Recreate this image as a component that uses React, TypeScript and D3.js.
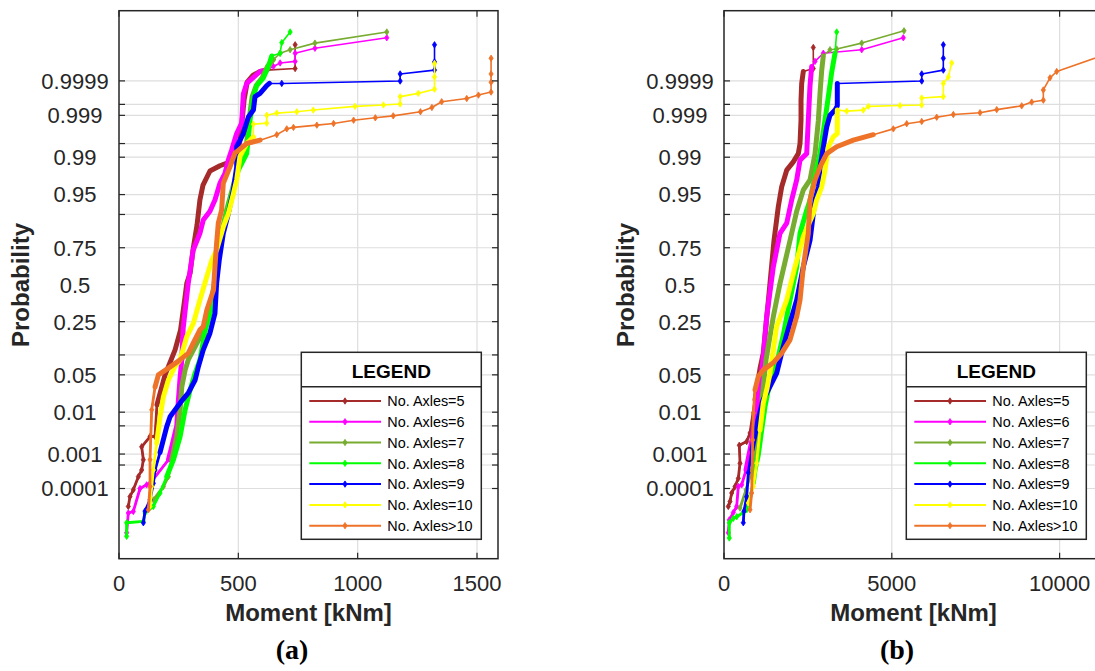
import React from 'react';
import * as d3 from 'd3';

type Pt = [number, number];

// ---------- labels / categories ----------
const seriesNames = ['No. Axles=5', 'No. Axles=6', 'No. Axles=7', 'No. Axles=8', 'No. Axles=9', 'No. Axles=10', 'No. Axles>10'];
const seriesColors = ['#A52A2A', '#FF00FF', '#77AC30', '#00FF00', '#0000FF', '#FFFF00', '#EE7228'];
const probTicks = [0.0001, 0.0005, 0.001, 0.005, 0.01, 0.05, 0.1, 0.25, 0.5, 0.75, 0.9, 0.95, 0.99, 0.995, 0.999, 0.9995, 0.9999];
const probLabels = ['0.0001', '', '0.001', '', '0.01', '0.05', '', '0.25', '0.5', '0.75', '', '0.95', '0.99', '', '0.999', '', '0.9999'];
const momentTicksA = [0, 500, 1000, 1500];
const momentTicksB = [0, 5000, 10000];
const captions = ['(a)', '(b)'];

// ---------- panel (a) : [moment kNm, probability] ----------
const a5Lo: Pt[] = [[39, 2.6e-5], [46, 5.5e-5], [60, 9.1e-5], [81, 2.3e-4], [95, 3.6e-4], [102, 7.0e-4], [95, 1.55e-3], [130, 2.8e-3], [151, 2.8e-3]];
const a5Body: Pt[] = [[159, 0.0142], [193, 0.05], [235, 0.117], [258, 0.205], [275, 0.39], [284, 0.51], [298, 0.584], [310, 0.737], [327, 0.862], [339, 0.939], [352, 0.9655], [381, 0.981], [423, 0.985], [474, 0.988], [495, 0.9912], [507, 0.9958], [516, 0.99866], [524, 0.99962], [537, 0.99989], [562, 0.999934], [591, 0.99995], [620, 0.999955]];
const a5Hi: Pt[] = [[738, 0.99996], [738, 0.999994]];

const a6Lo: Pt[] = [[32, 3.0e-6], [39, 1.55e-5], [60, 1.75e-5], [88, 1.0e-4], [116, 1.3e-4], [130, 1.45e-4]];
const a6Body: Pt[] = [[207, 7.0e-4], [221, 1.55e-3], [242, 5.0e-3], [249, 0.0178], [256, 0.045], [263, 0.085], [269, 0.215], [290, 0.51], [311, 0.737], [339, 0.826], [353, 0.881], [381, 0.91], [402, 0.939], [423, 0.968], [444, 0.979], [458, 0.9885], [472, 0.993], [493, 0.9971], [514, 0.9984], [521, 0.99975], [535, 0.99988], [591, 0.99995], [619, 0.999955]];
const a6Hi: Pt[] = [[647, 0.999966], [675, 0.999974], [738, 0.999977], [738, 0.999988], [821, 0.999992], [1122, 0.9999967]];

const a7Lo: Pt[] = [[144, 4.3e-5], [186, 1.15e-4], [207, 2.3e-4]];
const a7Body: Pt[] = [[221, 7.0e-4], [242, 2.8e-3], [256, 0.0112], [263, 0.031], [277, 0.06], [290, 0.085], [330, 0.15], [358, 0.205], [381, 0.3224], [399, 0.51], [414, 0.737], [429, 0.827], [451, 0.913], [474, 0.958], [496, 0.9817], [530, 0.9916], [545, 0.99866], [558, 0.9997], [575, 0.99986], [600, 0.99992], [622, 0.999966], [647, 0.99998]];
const a7Hi: Pt[] = [[675, 0.999988], [717, 0.999991], [821, 0.9999948], [1122, 0.999998]];

const a8Lo: Pt[] = [[32, 2.2e-6], [32, 7e-6], [102, 7.8e-6], [109, 1.55e-5], [144, 2.6e-5], [172, 7.2e-5]];
const a8Body: Pt[] = [[200, 2.3e-4], [228, 7.0e-4], [256, 2.8e-3], [277, 0.0112], [298, 0.0274], [319, 0.0535], [339, 0.085], [362, 0.205], [385, 0.3224], [403, 0.51], [418, 0.737], [433, 0.827], [455, 0.913], [478, 0.958], [500, 0.9817], [535, 0.9916], [549, 0.99866], [563, 0.9997], [577, 0.99986], [605, 0.99992], [626, 0.999966], [640, 0.999985]];
const a8Hi: Pt[] = [[675, 0.999988], [682, 0.999995], [717, 0.999998]];

const a9Lo: Pt[] = [[102, 7e-6], [109, 1.8e-5], [130, 4.3e-5], [144, 1.45e-4], [151, 3.6e-4]];
const a9Body: Pt[] = [[172, 1.1e-3], [200, 4.8e-3], [214, 8.0e-3], [256, 0.0155], [290, 0.024], [319, 0.041], [333, 0.0683], [353, 0.117], [381, 0.188], [402, 0.30], [409, 0.51], [420, 0.673], [437, 0.826], [458, 0.903], [479, 0.958], [493, 0.984], [493, 0.9941], [521, 0.9971], [542, 0.9989], [563, 0.99928], [570, 0.9997], [591, 0.99976], [619, 0.99986], [630, 0.99988]];
const a9Hi: Pt[] = [[682, 0.99988], [1178, 0.999899], [1178, 0.99994], [1322, 0.999955], [1322, 0.999976], [1322, 0.999994]];

const a10Lo: Pt[] = [[130, 2.6e-5], [137, 1.15e-4], [144, 3.6e-4]];
const a10Body: Pt[] = [[158, 1.9e-3], [172, 8.0e-3], [186, 0.0203], [207, 0.041], [235, 0.0683], [256, 0.085], [284, 0.172], [312, 0.242], [339, 0.39], [368, 0.558], [389, 0.673], [409, 0.737], [437, 0.854], [458, 0.903], [478, 0.949], [493, 0.972], [507, 0.9904], [535, 0.995], [563, 0.9965]];
const a10Hi: Pt[] = [[563, 0.9983], [619, 0.9984], [619, 0.99901], [661, 0.99913], [745, 0.9992], [814, 0.99928], [989, 0.99943], [1108, 0.99948], [1178, 0.99951], [1178, 0.9997], [1254, 0.99976], [1322, 0.99982], [1322, 0.999925], [1322, 0.999973]];

const a11Lo: Pt[] = [[123, 2.0e-5], [130, 1.15e-4], [130, 7.0e-4], [137, 0.0112]];
const a11Body: Pt[] = [[151, 0.031], [165, 0.05], [207, 0.064], [256, 0.085], [290, 0.105], [311, 0.143], [339, 0.205], [353, 0.222], [368, 0.322], [396, 0.4615], [402, 0.627], [409, 0.775], [416, 0.869], [430, 0.913], [437, 0.968], [465, 0.9842], [486, 0.9918], [535, 0.995], [591, 0.99583]];
const a11Hi: Pt[] = [[661, 0.9969], [703, 0.99777], [731, 0.99795], [829, 0.9982], [899, 0.99837], [983, 0.99866], [1074, 0.99884], [1149, 0.99897], [1263, 0.9992], [1311, 0.99939], [1352, 0.99958], [1457, 0.99966], [1506, 0.99973], [1559, 0.99978], [1559, 0.99989], [1559, 0.99994], [1559, 0.999982]];

// ---------- panel (b) ----------
const b5Lo: Pt[] = [[128, 2.6e-5], [179, 3.8e-5], [229, 7.2e-5], [328, 1.15e-4], [426, 2.05e-4], [477, 5.6e-4], [456, 1.7e-3], [676, 2.1e-3], [775, 3.4e-3]];
const b5Body: Pt[] = [[924, 0.0178], [1073, 0.063], [1171, 0.106], [1371, 0.51], [1490, 0.79], [1618, 0.923], [1719, 0.963], [1868, 0.9817], [2065, 0.9875], [2214, 0.9916], [2265, 0.995], [2295, 0.99866], [2295, 0.99962], [2315, 0.99988], [2363, 0.99995]];
const b5Hi: Pt[] = [[2661, 0.99996], [2661, 0.9999925]];

const b6Lo: Pt[] = [[128, 3.0e-6], [158, 8.9e-6], [277, 1.6e-5], [378, 2.6e-5], [426, 1.15e-4], [527, 1.3e-4]];
const b6Body: Pt[] = [[656, 3.6e-4], [834, 2.3e-3], [1013, 0.0178], [1162, 0.085], [1272, 0.28], [1469, 0.627], [1669, 0.826], [1868, 0.869], [2017, 0.939], [2166, 0.972], [2265, 0.9885], [2464, 0.9916], [2512, 0.99866], [2563, 0.99986], [2613, 0.999966]];
const b6Hi: Pt[] = [[2712, 0.999977], [2959, 0.999988], [4104, 0.999991], [5343, 0.9999967]];

const b7Lo: Pt[] = [[477, 2.3e-5], [656, 9e-5], [834, 3.6e-4], [983, 2.3e-3]];
const b7Body: Pt[] = [[1132, 0.0178], [1252, 0.085], [1469, 0.28], [1669, 0.51], [1967, 0.79], [2166, 0.91], [2363, 0.958], [2563, 0.972], [2712, 0.9916], [2812, 0.99866], [2861, 0.99976], [2912, 0.999955], [2959, 0.999985]];
const b7Hi: Pt[] = [[3159, 0.999991], [3358, 0.9999915], [4104, 0.9999948], [5364, 0.9999982]];

const b8Lo: Pt[] = [[158, 1.9e-6], [158, 7e-6], [277, 1.0e-5], [378, 1.15e-5], [575, 1.6e-5], [676, 2.0e-5], [775, 5.5e-5]];
const b8Body: Pt[] = [[873, 1.5e-4], [924, 3.6e-4], [1022, 9.5e-4], [1123, 4.0e-3], [1222, 0.0131], [1320, 0.0274], [1469, 0.0535], [1618, 0.095], [1767, 0.18], [1967, 0.39], [2166, 0.627], [2265, 0.826], [2464, 0.913], [2563, 0.939], [2712, 0.976], [2861, 0.9917], [3010, 0.99866], [3109, 0.9997], [3209, 0.999947], [3308, 0.999988]];
const b8Hi: Pt[] = [[3358, 0.999998]];

const b9Lo: Pt[] = [[575, 7e-6], [596, 1.8e-5], [676, 5.5e-5], [724, 3.0e-4]];
const b9Body: Pt[] = [[834, 1.3e-3], [1013, 6.8e-3], [1162, 0.0178], [1272, 0.024], [1570, 0.0535], [1767, 0.13], [1967, 0.242], [2166, 0.39], [2363, 0.627], [2563, 0.79], [2712, 0.939], [2812, 0.963], [2861, 0.984], [2959, 0.994], [3060, 0.998], [3159, 0.99901], [3308, 0.99928], [3376, 0.99945], [3376, 0.99988]];
const b9Hi: Pt[] = [[5892, 0.999899], [5892, 0.99994], [6535, 0.999955], [6535, 0.999982], [6535, 0.999994]];

const b10Lo: Pt[] = [[724, 3.4e-5], [873, 1.15e-4], [974, 5.6e-4]];
const b10Body: Pt[] = [[1073, 4.0e-3], [1171, 0.0155], [1272, 0.0274], [1371, 0.0535], [1570, 0.222], [1868, 0.39], [2116, 0.627], [2363, 0.809], [2661, 0.903], [2763, 0.939], [2912, 0.963], [3010, 0.9817], [3109, 0.9941], [3258, 0.9965], [3376, 0.9971], [3376, 0.99928]];
const b10Hi: Pt[] = [[3657, 0.99923], [4151, 0.99928], [4300, 0.99943], [5245, 0.99946], [5892, 0.99948], [5892, 0.99967], [6535, 0.9997], [6535, 0.99988], [6684, 0.999925], [6785, 0.999974]];

const b11Lo: Pt[] = [[775, 2.0e-5], [825, 7.2e-5], [855, 2.3e-3], [873, 9.6e-3]];
const b11Body: Pt[] = [[924, 0.0274], [1022, 0.047], [1171, 0.06], [1469, 0.077], [1719, 0.106], [1967, 0.157], [2166, 0.28], [2265, 0.39], [2363, 0.627], [2512, 0.826], [2563, 0.939], [2712, 0.972], [2861, 0.9842], [3060, 0.9916], [3358, 0.9941], [3853, 0.99583], [4449, 0.9969]];
const b11Hi: Pt[] = [[5045, 0.99777], [5444, 0.99835], [5892, 0.99855], [6338, 0.99888], [6833, 0.99905], [7629, 0.99915], [8126, 0.9993], [8871, 0.99945], [9169, 0.99957], [9515, 0.99962], [9515, 0.99981], [9714, 0.99992], [9914, 0.99995], [11234, 0.999985]];

type Series = { lo: Pt[]; body: Pt[]; hi: Pt[] };
const panelA: Series[] = [
  { lo: a5Lo, body: a5Body, hi: a5Hi },
  { lo: a6Lo, body: a6Body, hi: a6Hi },
  { lo: a7Lo, body: a7Body, hi: a7Hi },
  { lo: a8Lo, body: a8Body, hi: a8Hi },
  { lo: a9Lo, body: a9Body, hi: a9Hi },
  { lo: a10Lo, body: a10Body, hi: a10Hi },
  { lo: a11Lo, body: a11Body, hi: a11Hi },
];
const panelB: Series[] = [
  { lo: b5Lo, body: b5Body, hi: b5Hi },
  { lo: b6Lo, body: b6Body, hi: b6Hi },
  { lo: b7Lo, body: b7Body, hi: b7Hi },
  { lo: b8Lo, body: b8Body, hi: b8Hi },
  { lo: b9Lo, body: b9Body, hi: b9Hi },
  { lo: b10Lo, body: b10Body, hi: b10Hi },
  { lo: b11Lo, body: b11Body, hi: b11Hi },
];

// inverse standard normal CDF (Acklam)
function probit(p: number): number {
  const a = [-3.969683028665376e1, 2.209460984245205e2, -2.759285104469687e2, 1.38357751867269e2, -3.066479806614716e1, 2.506628277459239];
  const b = [-5.447609879822406e1, 1.615858368580409e2, -1.556989798598866e2, 6.680131188771972e1, -1.328068155288572e1];
  const c = [-7.784894002430293e-3, -3.223964580411365e-1, -2.400758277161838, -2.549732539343734, 4.374664141464968, 2.938163982698783];
  const d = [7.784695709041462e-3, 3.224671290700398e-1, 2.445134137142996, 3.754408661907416];
  const pl = 0.02425;
  if (p < pl) {
    const q = Math.sqrt(-2 * Math.log(p));
    return (((((c[0] * q + c[1]) * q + c[2]) * q + c[3]) * q + c[4]) * q + c[5]) / ((((d[0] * q + d[1]) * q + d[2]) * q + d[3]) * q + 1);
  }
  if (p <= 1 - pl) {
    const q = p - 0.5, r = q * q;
    return ((((((a[0] * r + a[1]) * r + a[2]) * r + a[3]) * r + a[4]) * r + a[5]) * q) / (((((b[0] * r + b[1]) * r + b[2]) * r + b[3]) * r + b[4]) * r + 1);
  }
  const q = Math.sqrt(-2 * Math.log(1 - p));
  return -(((((c[0] * q + c[1]) * q + c[2]) * q + c[3]) * q + c[4]) * q + c[5]) / ((((d[0] * q + d[1]) * q + d[2]) * q + d[3]) * q + 1);
}

const TOP = 10.7;
const BOTTOM = 558.7;
const PW = 379;
const AXIS = '#262626';
const GRID = '#dedede';
const SANS = '"Liberation Sans", Arial, Helvetica, sans-serif';
const SERIF = '"Liberation Serif", "Times New Roman", serif';

const markerPath = 'M0,-3.2L2.1,0L0,3.2L-2.1,0Z';

function Panel({ left, xMax, xTicks, data, caption, id }: { left: number; xMax: number; xTicks: number[]; data: Series[]; caption: string; id: string }) {
  const x = d3.scaleLinear().domain([0, xMax]).range([left, left + PW]);
  const y = d3.scaleLinear().domain([-5, 5]).range([BOTTOM, TOP]);
  const line = d3.line<Pt>().x((d) => x(d[0])).y((d) => y(probit(d[1])));
  const right = left + PW;
  const legX = left + 182.3;
  const legY = 352.3;
  const legW = 180;
  const legH = 187;
  return (
    <g>
      <defs>
        <clipPath id={id}>
          <rect x={left} y={TOP} width={PW} height={BOTTOM - TOP} />
        </clipPath>
      </defs>
      <rect x={left} y={TOP} width={PW} height={BOTTOM - TOP} fill="#fff" />
      {/* grid */}
      {probTicks.map((p, i) => (
        <line key={'gy' + i} x1={left} x2={right} y1={y(probit(p))} y2={y(probit(p))} stroke={GRID} strokeWidth={1.2} />
      ))}
      {xTicks.filter((t) => t > 0).map((t) => (
        <line key={'gx' + t} x1={x(t)} x2={x(t)} y1={TOP} y2={BOTTOM} stroke={GRID} strokeWidth={1.2} />
      ))}
      {/* series */}
      <g clipPath={`url(#${id})`}>
        {data.map((s, i) => {
          const col = seriesColors[i];
          const all = [...s.lo, ...s.body, ...s.hi];
          const loPath = [...s.lo, s.body[0]];
          return (
            <g key={'s' + i}>
              <path d={line(all) || ''} fill="none" stroke={col} strokeWidth={1.6} strokeLinejoin="round" />
              <path d={line(loPath) || ''} fill="none" stroke={col} strokeWidth={2.8} strokeLinejoin="round" strokeLinecap="round" />
              <path d={line(s.body) || ''} fill="none" stroke={col} strokeWidth={5} strokeLinejoin="round" strokeLinecap="round" />
              {[...s.lo, ...s.hi].map((d, k) => (
                <path key={k} d={markerPath} transform={`translate(${x(d[0])},${y(probit(d[1]))})`} fill={col} stroke={col} strokeWidth={0.8} />
              ))}
            </g>
          );
        })}
      </g>
      {/* axes box */}
      <rect x={left} y={TOP} width={PW} height={BOTTOM - TOP} fill="none" stroke={AXIS} strokeWidth={1.5} />
      {probTicks.map((p, i) => {
        const yy = y(probit(p));
        return (
          <g key={'ty' + i}>
            <line x1={left} x2={left + 6} y1={yy} y2={yy} stroke={AXIS} strokeWidth={1.2} />
            <line x1={right - 6} x2={right} y1={yy} y2={yy} stroke={AXIS} strokeWidth={1.2} />
            {probLabels[i] && (
              <text x={left - 44} y={yy} dy="0.36em" textAnchor="middle" fontSize={22} fill={AXIS} fontFamily={SANS}>
                {probLabels[i]}
              </text>
            )}
          </g>
        );
      })}
      {xTicks.map((t) => (
        <g key={'tx' + t}>
          <line x1={x(t)} x2={x(t)} y1={BOTTOM} y2={BOTTOM - 6} stroke={AXIS} strokeWidth={1.2} />
          <line x1={x(t)} x2={x(t)} y1={TOP} y2={TOP + 6} stroke={AXIS} strokeWidth={1.2} />
          <text x={x(t)} y={590.5} textAnchor="middle" fontSize={22} fill={AXIS} fontFamily={SANS}>
            {t}
          </text>
        </g>
      ))}
      <text x={left + PW / 2} y={621} textAnchor="middle" fontSize={24} fontWeight="bold" fill={AXIS} fontFamily={SANS}>
        Moment [kNm]
      </text>
      <text transform={`translate(${left - 90.5},285) rotate(-90)`} textAnchor="middle" fontSize={24} fontWeight="bold" fill={AXIS} fontFamily={SANS}>
        Probability
      </text>
      <text x={left + 173} y={659.3} textAnchor="middle" fontSize={28} fontWeight="bold" fill="#000" fontFamily={SERIF}>
        {caption}
      </text>
      {/* legend */}
      <g>
        <rect x={legX} y={legY} width={legW} height={legH} fill="#fff" stroke={AXIS} strokeWidth={1.5} />
        <line x1={legX} x2={legX + legW} y1={legY + 34.4} y2={legY + 34.4} stroke={AXIS} strokeWidth={1.5} />
        <text x={legX + legW / 2} y={legY + 25.4} textAnchor="middle" fontSize={19} fontWeight="bold" fill="#000" fontFamily={SANS}>
          LEGEND
        </text>
        {seriesNames.map((n, i) => {
          const cy = 401 + i * 20.78;
          return (
            <g key={'lg' + i}>
              <line x1={legX + 8} x2={legX + 79.7} y1={cy} y2={cy} stroke={seriesColors[i]} strokeWidth={2} />
              <path d={markerPath} transform={`translate(${legX + 43.7},${cy})`} fill={seriesColors[i]} stroke={seriesColors[i]} strokeWidth={0.8} />
              <text x={legX + 86} y={cy} dy="0.36em" fontSize={14.4} fill="#000" fontFamily={SANS}>
                {n}
              </text>
            </g>
          );
        })}
      </g>
    </g>
  );
}

export default function App() {
  return (
    <svg width={1095} height={671} style={{ position: 'absolute', left: 0, top: 0, background: '#fff' }}>
      <rect x={0} y={0} width={1095} height={671} fill="#fff" />
      <Panel left={119} xMax={1588} xTicks={momentTicksA} data={panelA} caption={captions[0]} id="clipA" />
      <Panel left={724} xMax={11293} xTicks={momentTicksB} data={panelB} caption={captions[1]} id="clipB" />
    </svg>
  );
}
